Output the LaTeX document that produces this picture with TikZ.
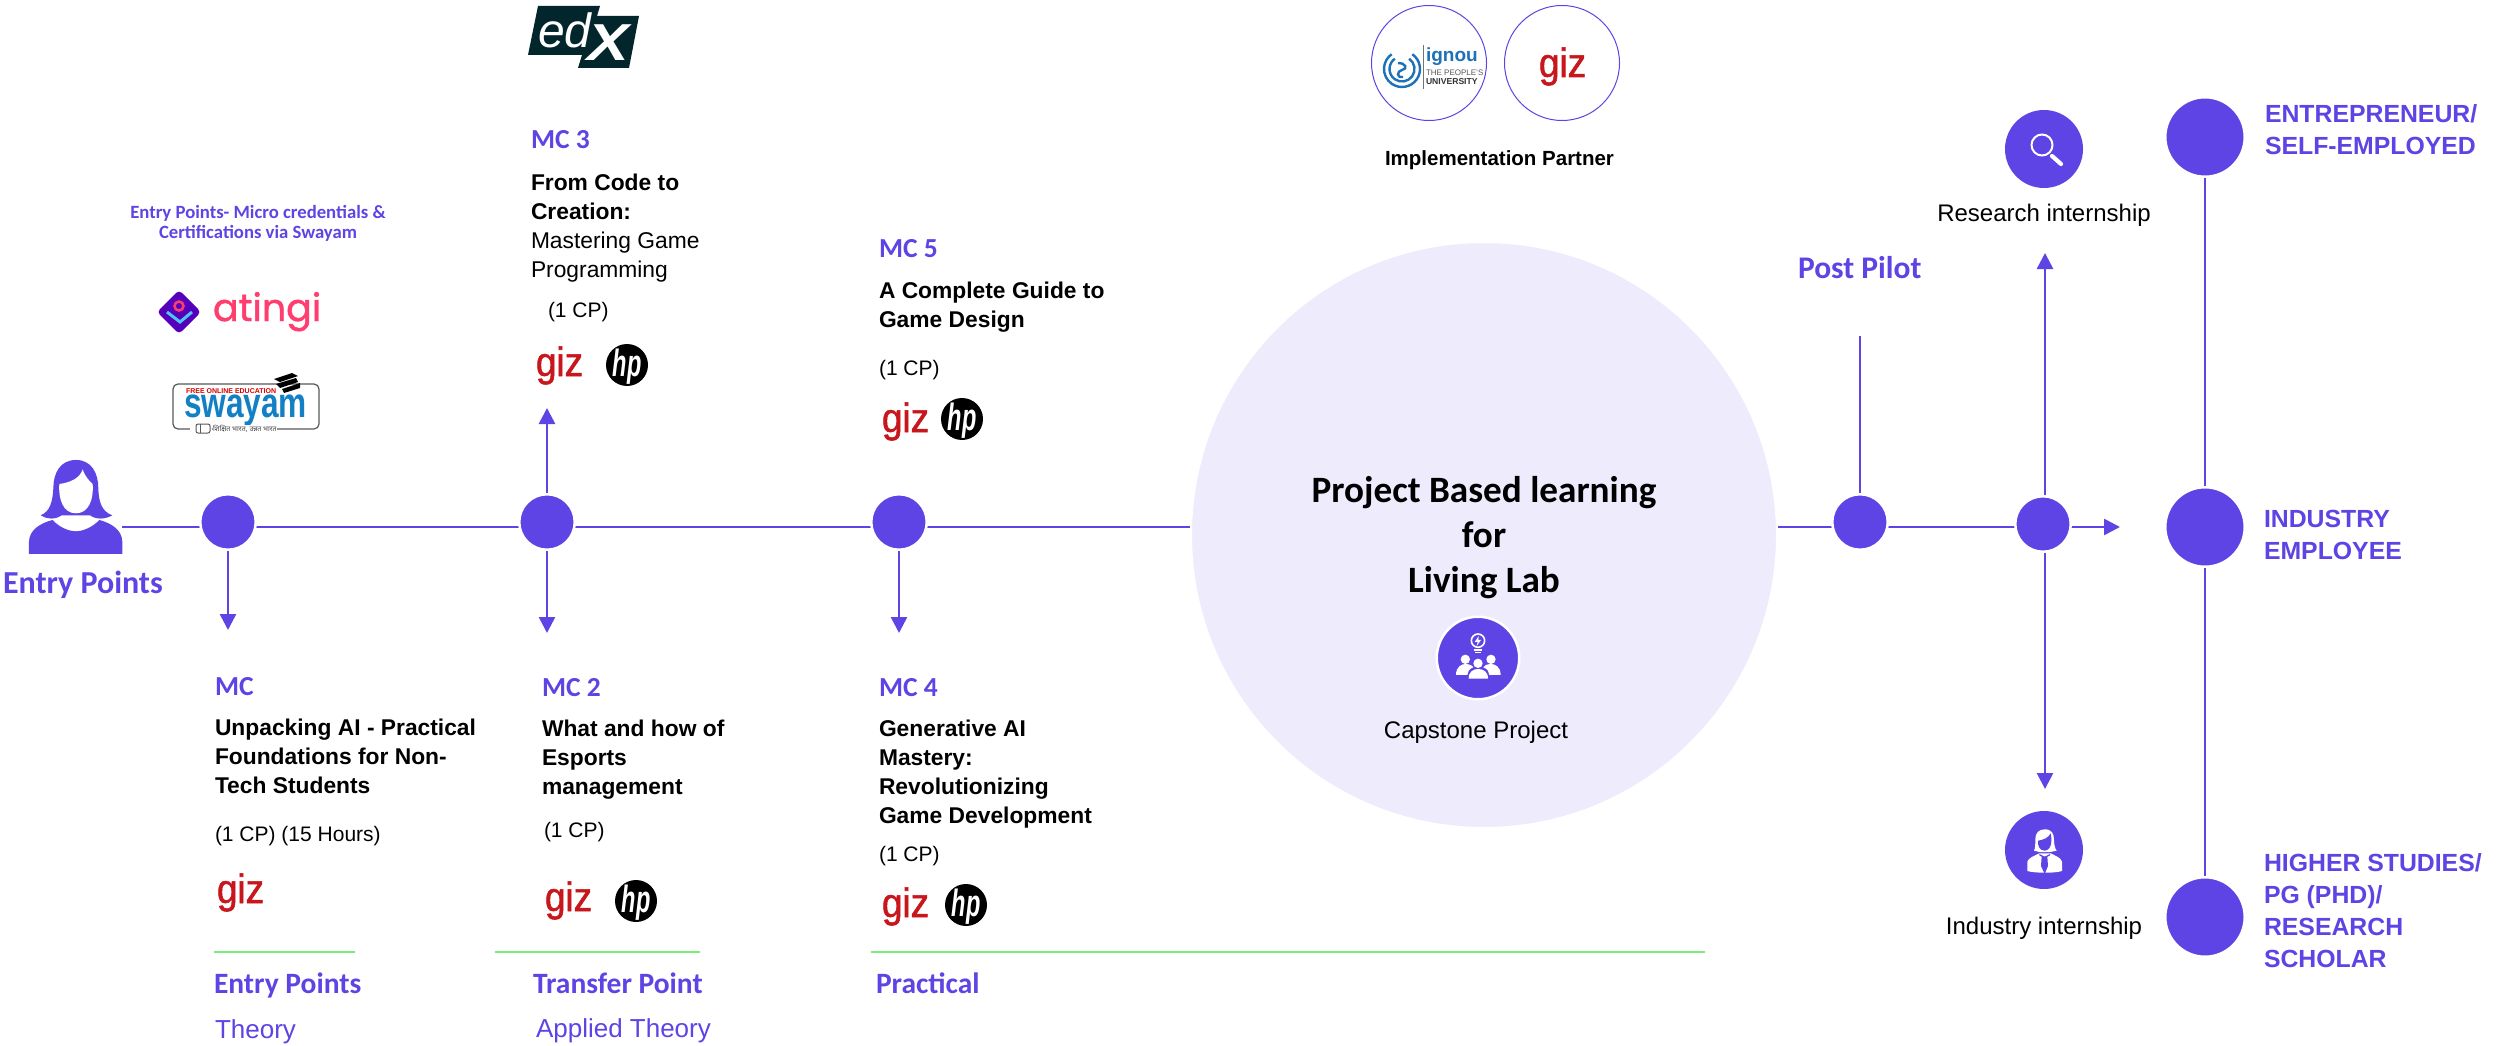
\documentclass[tikz,border=0pt]{standalone}
\usepackage{fontspec}
\usepackage{graphicx}
\setmainfont{Liberation Sans}
\newfontfamily\os{Carlito}
\newfontfamily\pop[FakeBold=1.2]{Poppins}
\newfontfamily\gizf[FakeBold=1.4]{Liberation Sans}
\newfontfamily\deva[Script=Devanagari]{Noto Sans}
\usetikzlibrary{arrows.meta,backgrounds}
\definecolor{vio}{HTML}{5E44E4}
\definecolor{pale}{HTML}{EEEBFC}
\definecolor{gizred}{HTML}{C8161D}
\definecolor{mint}{HTML}{7CEB7C}
\definecolor{edxd}{HTML}{02262B}
\definecolor{ignb}{HTML}{1D71B8}
\definecolor{atp}{HTML}{FF3D6E}
\definecolor{atv}{HTML}{5500BB}
\definecolor{swb}{HTML}{1280C4}
\tikzset{
  x=1pt,y=-1pt,
  tx/.style={inner sep=0,outer sep=0,anchor=base west,align=left},
  txc/.style={inner sep=0,outer sep=0,anchor=base,align=center},
  mc/.style={tx,text=vio,font=\fontsize{27.5}{29}\selectfont\os\bfseries},
  phase/.style={tx,text=vio,font=\fontsize{29.5}{30}\selectfont\os\bfseries},
  body/.style={tx,text=black,font=\fontsize{22.8}{29}\selectfont\bfseries},
  cp/.style={tx,text=black,font=\fontsize{21}{25}\selectfont},
  lab/.style={tx,text=vio,font=\fontsize{24.8}{32}\selectfont\bfseries},
  dot/.style={circle,inner sep=0,fill=vio,draw=white,line width=2.5pt,minimum size=55.5pt},
  bigdot/.style={circle,inner sep=0,fill=vio,draw=white,line width=2.5pt,minimum size=79.5pt},
  icondot/.style={circle,inner sep=0,fill=vio,minimum size=78pt},
  link/.style={draw=vio,line width=2.6pt},
  thin link/.style={draw=vio,line width=2.2pt},
  tipped/.style={draw=vio,line width=2.6pt,-{Triangle[length=16pt,width=16pt]}},
  mintline/.style={draw=mint,line width=2pt},
  partner/.style={circle,inner sep=0,draw=vio,line width=1pt,fill=white,minimum size=115pt}
}
\newcommand{\gizmark}[3]{\node[tx,text=gizred,font=\fontsize{41}{41}\selectfont\gizf] (#1) at (#2,#3) {\scalebox{0.9}[1]{giz}};}
\newcommand{\hpmark}[3]{\node[circle,inner sep=0,fill=black,minimum size=42pt,text=white,font=\fontsize{38}{38}\selectfont\bfseries\itshape] (#1) at (#2,#3) {\smash{\makebox[0pt]{\raisebox{-11pt}{\scalebox{0.62}[1]{hp}}}}};}
\begin{document}
\begin{tikzpicture}
\useasboundingbox (0,0) rectangle (2501,1046);

% big circle and rail nodes
\node[circle,inner sep=0,fill=pale,draw=white,line width=2pt,minimum size=586pt] (big) at (1484,535) {};
\node[dot] (n1) at (228,522) {};
\node[dot] (n2) at (547,522) {};
\node[dot] (n3) at (899,522) {};
\node[dot] (n4) at (1860,522) {};
\node[dot] (n5) at (2043,524) {};
\node[bigdot] (r1) at (2205,137) {};
\node[bigdot] (r2) at (2205,527) {};
\node[bigdot] (r3) at (2205,917) {};
\coordinate (rail) at (0,527);
\coordinate (d1) at (228,630);
\coordinate (u2) at (547,408);
\coordinate (d2) at (547,633);
\coordinate (d3) at (899,633);
\coordinate (p4) at (1860,336);
\coordinate (u5) at (2045,253);
\coordinate (d5) at (2045,789);
\coordinate (railtip) at (2120,527);

% person icon
\node[inner sep=0,minimum width=93pt,minimum height=94pt] (person) at (75.5,507) {};
\begin{scope}[shift={(0,180)},x=.3333pt,y=-.3333pt]
\fill[vio] (228,840) .. controls (275,840) and (295,880) .. (295,925) .. controls (296,965) and (305,995) .. (337,1006) .. controls (315,1018) and (290,1020) .. (270,1006) -- (185,1006) .. controls (165,1020) and (140,1018) .. (122,1006) .. controls (150,995) and (158,965) .. (160,925) .. controls (160,880) and (180,840) .. (228,840) -- cycle;
\fill[white] (178,912) .. controls (210,908) and (240,895) .. (248,868) .. controls (255,890) and (270,905) .. (278,912) .. controls (282,960) and (265,1000) .. (228,1000) .. controls (190,1000) and (175,960) .. (178,912) -- cycle;
\fill[vio] (87,1122) -- (87,1085) .. controls (88,1050) and (120,1030) .. (158,1020) .. controls (175,1040) and (205,1054) .. (228,1054) .. controls (250,1054) and (280,1040) .. (298,1020) .. controls (335,1030) and (366,1050) .. (367,1085) -- (367,1122) -- cycle;
\end{scope}

% left caption and logos
\node[txc,text=vio,font=\fontsize{18.7}{20}\selectfont\os\bfseries] (cap) at (258,238) {Entry Points- Micro credentials \&\\Certifications via Swayam};
\begin{scope}[rounded corners=4pt]
\fill[atv] (179,290) -- (201,312) -- (179,334) -- (157,312) -- cycle;
\end{scope}
\draw[atp,line width=2.5pt] (179,306) circle[radius=4.5];
\draw[cyan!70!white,line width=3pt] (167,312) -- (180,322) -- (192,312);
\node[tx,text=atp,font=\fontsize{38}{38}\selectfont\pop] (atingi) at (213,321) {atingi};
\draw[black!65,line width=1.2pt,rounded corners=5pt] (173,384) rectangle (319,429);
\node[tx,text=swb,font=\fontsize{42}{42}\selectfont\bfseries] (swayam) at (184,417) {\scalebox{0.753}[1]{swayam}};
\node[tx,text=red!85!black,font=\fontsize{7}{8}\selectfont\bfseries] (free) at (186,393) {FREE ONLINE EDUCATION};
\node[tx,fill=white,text=black!75,font=\fontsize{7}{8}\selectfont\deva] (hindi) at (213,431) {शिक्षित भारत, उन्नत भारत};
\fill[white] (190,425) rectangle (212,433);
\draw[black!65,line width=1pt,fill=white,rounded corners=2pt] (196,424) rectangle (210,433);
\draw[black!65,line width=1pt] (200,424) -- (200,433);
\fill[black] (274,379) -- (292,373) -- (298,376) -- (280,382) -- cycle;
\fill[black] (276,384) -- (296,378) -- (298,382) -- (280,388) -- cycle;
\fill[black] (282,389) -- (300,383) -- (300,388) -- (284,393) -- cycle;
\node[tx,text=vio,font=\fontsize{32}{32}\selectfont\os\bfseries] (entry) at (3,593) {Entry Points};

% MC 3
\fill[edxd] (538,6) -- (600,6) -- (597,16) -- (639,16) -- (629,68) -- (578,68) -- (582,55) -- (528,55) -- cycle;
\node[tx,text=white,font=\fontsize{48}{48}\selectfont\itshape] (edx) at (538,48) {ed};
\node[tx,text=white,font=\fontsize{52}{52}\selectfont\bfseries\itshape] (edxX) at (587,61) {\scalebox{1.2}[1]{X}};
\node[mc] (mc3) at (531,149) {MC 3};
\node[body] (mc3t) at (531,277) {\bfseries From Code to\\\bfseries Creation:\\\mdseries Mastering Game\\\mdseries Programming};
\node[cp] (mc3c) at (548,317) {(1 CP)};
\gizmark{g3}{536}{376}
\hpmark{h3}{627}{365}

% MC 5
\node[mc] (mc5) at (879,257) {MC 5};
\node[body] (mc5t) at (879,327) {A Complete Guide to\\Game Design};
\node[cp] (mc5c) at (879,375) {(1 CP)};
\gizmark{g5}{882}{432}
\hpmark{h5}{962}{419}

% MC 1
\node[mc] (mc1) at (215,695) {MC};
\node[body] (mc1t) at (215,793) {Unpacking AI - Practical\\Foundations for Non-\\Tech Students};
\node[cp] (mc1c) at (215,841) {(1 CP) (15 Hours)};
\gizmark{g1}{217}{903}

% MC 2
\node[mc] (mc2) at (542,696) {MC 2};
\node[body] (mc2t) at (542,794) {What and how of\\Esports\\management};
\node[cp] (mc2c) at (544,837) {(1 CP)};
\gizmark{g2}{545}{911}
\hpmark{h2}{636}{901}

% MC 4
\node[mc] (mc4) at (879,696) {MC 4};
\node[body] (mc4t) at (879,823) {Generative AI\\Mastery:\\Revolutionizing\\Game Development};
\node[cp] (mc4c) at (879,861) {(1 CP)};
\gizmark{g4}{882}{917}
\hpmark{h4}{966}{905}

% green rules and phases
\draw[mintline] (214,952) -- (355,952);
\draw[mintline] (495,952) -- (700,952);
\draw[mintline] (871,952) -- (1705,952);
\node[phase] (ph1) at (214,993) {Entry Points};
\node[phase] (ph2) at (533,993) {Transfer Point};
\node[phase] (ph3) at (876,993) {Practical};
\node[tx,text=vio,font=\fontsize{26}{30}\selectfont] (th1) at (215,1038) {Theory};
\node[tx,text=vio,font=\fontsize{26}{30}\selectfont] (th2) at (536,1037) {Applied Theory};

% partners
\node[partner] (pa) at (1429,63) {};
\node[partner] (pb) at (1562,63) {};
\begin{scope}[shift={(1402,69)},draw=ignb,line width=2.4pt]
\draw (-55:18) arc[start angle=-55,end angle=235,radius=18];
\draw (-55:12.5) arc[start angle=-55,end angle=235,radius=12.5];
\draw (-4,-6) .. controls (4,-6) and (6,0) .. (0,1) .. controls (-5,2) and (-6,9) .. (1,8);
\end{scope}
\draw[black!55,line width=.8pt] (1423,45) -- (1423,89);
\node[tx,text=ignb,font=\fontsize{19}{19}\selectfont\bfseries] (ign) at (1426,62) {ignou};
\node[tx,text=black!65,font=\fontsize{8}{9}\selectfont] (ign2) at (1426,76) {THE PEOPLE'S};
\node[tx,text=black!80,font=\fontsize{8.6}{9}\selectfont\bfseries] (ign3) at (1426,85) {UNIVERSITY};
\gizmark{g0}{1539}{77}
\node[tx,text=black,font=\fontsize{20.5}{24}\selectfont\bfseries] (impl) at (1385,166) {Implementation Partner};

% centre
\node[txc,text=black,font=\fontsize{37.2}{45}\selectfont\os\bfseries] (title) at (1484,592) {Project Based learning\\for\\Living Lab};
\node[circle,inner sep=0,fill=vio,draw=white,line width=2.5pt,minimum size=82.5pt] (cap1) at (1478,658) {};
\begin{scope}[shift={(1380,580)},x=.3333pt,y=-.3333pt]
\draw[white,line width=1.6pt] (294,182) circle[radius=20];
\fill[white] (296,168) -- (284,186) -- (293,186) -- (290,198) -- (303,180) -- (295,180) -- cycle;
\fill[white] (282,207) rectangle (306,212);
\fill[white] (285,216) rectangle (303,220);
\fill[white] (256,238) circle[radius=14];
\fill[white] (333,238) circle[radius=14];
\fill[white] (228,285) .. controls (228,260) and (245,252) .. (256,252) .. controls (270,252) and (278,258) .. (280,262) .. controls (268,266) and (262,275) .. (262,285) -- cycle;
\fill[white] (362,285) .. controls (362,260) and (345,252) .. (333,252) .. controls (320,252) and (312,258) .. (310,262) .. controls (322,266) and (328,275) .. (328,285) -- cycle;
\fill[white] (294,250) circle[radius=14];
\fill[white] (266,296) .. controls (266,275) and (280,267) .. (294,267) .. controls (310,267) and (324,275) .. (324,296) -- cycle;
\end{scope}
\node[txc,text=black,font=\fontsize{24}{28}\selectfont] (capt) at (1476,738) {Capstone Project};

% post pilot
\node[tx,text=vio,font=\fontsize{31.5}{32}\selectfont\os\bfseries] (post) at (1798,278) {Post Pilot};

% internships
\node[icondot] (ir) at (2044,149) {};
\draw[white,line width=2pt] (2042,145) circle[radius=10.5];
\draw[white,line width=4.2pt,line cap=round] (2052,156) -- (2061,164);
\node[txc,text=black,font=\fontsize{24}{28}\selectfont] (irt) at (2044,221) {Research internship};
\node[icondot] (ii) at (2044,850) {};
\begin{scope}[shift={(1950,790)},x=.3333pt,y=-.3333pt]
\fill[white] (284,118) .. controls (305,118) and (312,130) .. (312,150) .. controls (312,165) and (316,178) .. (320,182) -- (300,186) -- (268,186) -- (252,182) .. controls (256,175) and (256,160) .. (256,148) .. controls (256,130) and (265,118) .. (284,118) -- cycle;
\fill[vio] (264,152) .. controls (280,150) and (296,143) .. (302,130) .. controls (306,150) and (306,180) .. (284,182) .. controls (270,182) and (262,168) .. (264,152) -- cycle;
\fill[white] (232,243) -- (232,215) .. controls (235,203) and (255,197) .. (268,190) -- (302,190) .. controls (315,197) and (333,203) .. (336,215) -- (336,243) .. controls (315,250) and (255,250) .. (232,243) -- cycle;
\fill[vio] (275,200) -- (292,200) -- (294,228) -- (284,252) -- (273,228) -- cycle;
\fill[vio] (268,192) -- (284,200) -- (300,192) -- (300,196) -- (284,205) -- (268,196) -- cycle;
\end{scope}
\node[txc,text=black,font=\fontsize{24}{28}\selectfont] (iit) at (2044,934) {Industry internship};

% outcomes
\node[lab] (o1) at (2265,154) {ENTREPRENEUR/\\SELF-EMPLOYED};
\node[lab] (o2) at (2264,559) {INDUSTRY\\EMPLOYEE};
\node[lab] (o3) at (2264,967) {HIGHER STUDIES/\\PG (PHD)/\\RESEARCH\\SCHOLAR};

% connectors
\begin{scope}[on background layer]
\fill[white] (0,0) rectangle (2501,1046);
\path[link] (person.east |- rail) -- (n1 |- rail);
\path[link] (n1 |- rail) -- (n2 |- rail);
\path[link] (n2 |- rail) -- (n3 |- rail);
\path[link] (n3 |- rail) -- (big.west |- rail);
\path[link] (big.east |- rail) -- (n4 |- rail);
\path[link] (n4 |- rail) -- (n5 |- rail);
\path[tipped] (n5 |- rail) -- (railtip);
\path[tipped] (n1) -- (d1);
\path[tipped] (n2) -- (u2);
\path[tipped] (n2) -- (d2);
\path[tipped] (n3) -- (d3);
\path[thin link] (n4) -- (p4);
\path[tipped] (n5 -| u5) -- (u5);
\path[tipped] (n5 -| d5) -- (d5);
\path[thin link] (r1) -- (r2);
\path[thin link] (r2) -- (r3);
\end{scope}
\end{tikzpicture}
\end{document}
